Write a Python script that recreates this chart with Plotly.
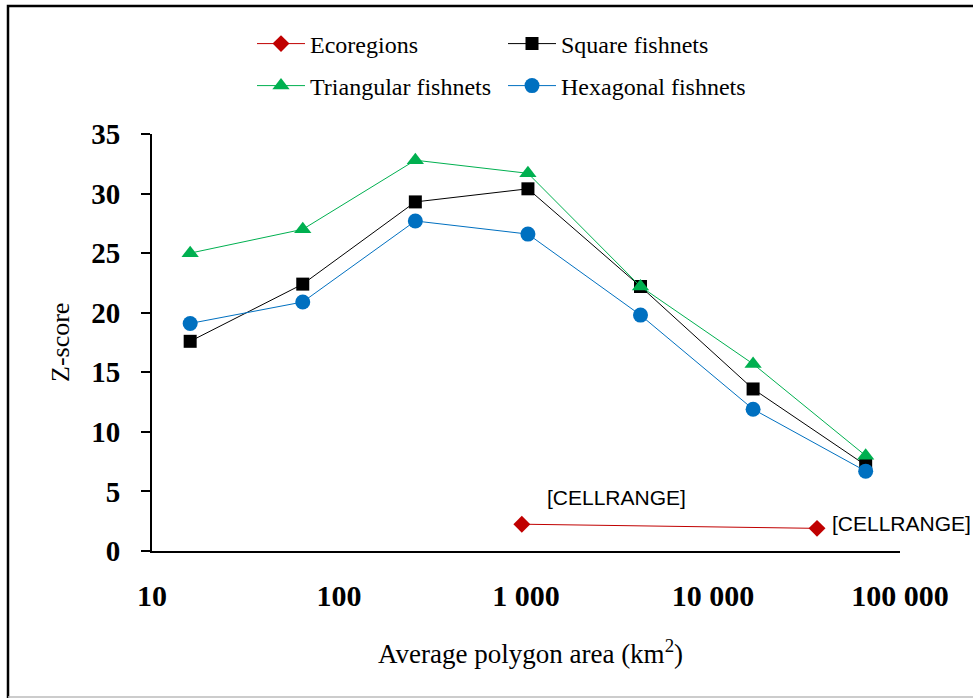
import numpy as np
import plotly.graph_objects as go

# Data
fish_x = [16, 64, 256, 1024, 4096, 16384, 65536]
square = [17.6, 22.4, 29.3, 30.4, 22.2, 13.6, 7.2]
triangular = [25.0, 27.0, 32.8, 31.7, 22.2, 15.7, 8.0]
hexagonal = [19.1, 20.9, 27.7, 26.6, 19.8, 11.9, 6.7]
eco_x = [950, 36000]
eco_y = [2.25, 1.9]
eco_labels = ["[CELLRANGE]", "[CELLRANGE]"]
x_tickvals = [10, 100, 1000, 10000, 100000]
x_ticktext = ["10", "100", "1 000", "10 000", "100 000"]

SERIF = "Liberation Serif, Times New Roman, serif"

fig = go.Figure()
fig.add_trace(go.Scatter(x=eco_x, y=eco_y, name="Ecoregions", mode="lines+markers",
                         line=dict(color="#C00000", width=1),
                         marker=dict(symbol="diamond", size=13, color="#C00000"),
                         legend="legend"))
fig.add_trace(go.Scatter(x=fish_x, y=square, name="Square fishnets", mode="lines+markers",
                         line=dict(color="#000000", width=1),
                         marker=dict(symbol="square", size=13, color="#000000"),
                         legend="legend"))
fig.add_trace(go.Scatter(x=fish_x, y=triangular, name="Triangular fishnets", mode="lines+markers",
                         line=dict(color="#00B050", width=1),
                         marker=dict(symbol="triangle-up", size=15, color="#00B050"),
                         legend="legend2"))
fig.add_trace(go.Scatter(x=fish_x, y=hexagonal, name="Hexagonal fishnets", mode="lines+markers",
                         line=dict(color="#0070C0", width=1),
                         marker=dict(symbol="circle", size=15, color="#0070C0"),
                         legend="legend2"))

L, R, T, B = 152, 73, 134, 147
W, H = 973, 698
pw, ph = W - L - R, H - T - B

def px2x(px):
    return (px - L) / pw

def py2y(py):
    return (H - B - py) / ph

leg_common = dict(orientation="h", xanchor="left", yanchor="middle",
                  font=dict(family=SERIF, size=24, color="#000"),
                  bgcolor="rgba(0,0,0,0)", entrywidth=188, entrywidthmode="pixels",
                  itemwidth=48, traceorder="normal")

fig.update_layout(
    width=W, height=H,
    margin=dict(l=L, r=R, t=T, b=B),
    plot_bgcolor="white", paper_bgcolor="white",
    legend=dict(x=px2x(252), y=py2y(44), **leg_common),
    legend2=dict(x=px2x(252), y=py2y(86), **leg_common),
    xaxis=dict(type="log", range=[1, 5], tickvals=x_tickvals, ticktext=x_ticktext,
               showgrid=False, zeroline=False, showline=True, linecolor="#000", linewidth=2,
               ticks="", ticklabelstandoff=17,
               tickfont=dict(family=SERIF, size=30, color="#000", weight="bold")),
    yaxis=dict(range=[0, 35], dtick=5, showgrid=False, zeroline=False, showline=True,
               linecolor="#000", linewidth=2, ticks="outside", ticklen=9, tickwidth=2,
               tickcolor="#000", ticklabelstandoff=15,
               tickfont=dict(family=SERIF, size=29, color="#000", weight="bold")),
    showlegend=True,
)

# Data labels
fig.add_annotation(x=np.log10(eco_x[0]), y=eco_y[0], text=eco_labels[0], showarrow=False,
                   xanchor="center", yanchor="middle", xshift=95, yshift=27,
                   font=dict(family="Liberation Sans, Arial, sans-serif", size=21, color="#000"))
fig.add_annotation(x=np.log10(eco_x[1]), y=eco_y[1], text=eco_labels[1], showarrow=False,
                   xanchor="left", yanchor="middle", xshift=13, yshift=5,
                   font=dict(family="Liberation Sans, Arial, sans-serif", size=21, color="#000"))

# Axis titles
fig.add_annotation(xref="paper", yref="paper", x=px2x(530), y=py2y(652),
                   text="Average polygon area (km<sup>2</sup>)", showarrow=False,
                   xanchor="center", yanchor="middle",
                   font=dict(family=SERIF, size=27, color="#000"))
fig.add_annotation(xref="paper", yref="paper", x=px2x(60), y=py2y(343),
                   text="Z-score", showarrow=False, textangle=-90,
                   xanchor="center", yanchor="middle",
                   font=dict(family=SERIF, size=26, color="#000"))

# Chart border
fig.add_shape(type="rect", xref="paper", yref="paper",
              x0=px2x(8), x1=px2x(990), y0=py2y(720), y1=py2y(6),
              line=dict(color="#000", width=2.5), layer="below")
fig.add_shape(type="line", xref="paper", yref="paper",
              x0=px2x(8), x1=px2x(990), y0=py2y(697), y1=py2y(697),
              line=dict(color="#BBBBBB", width=1.5), layer="below")

fig.write_html("out.html")
